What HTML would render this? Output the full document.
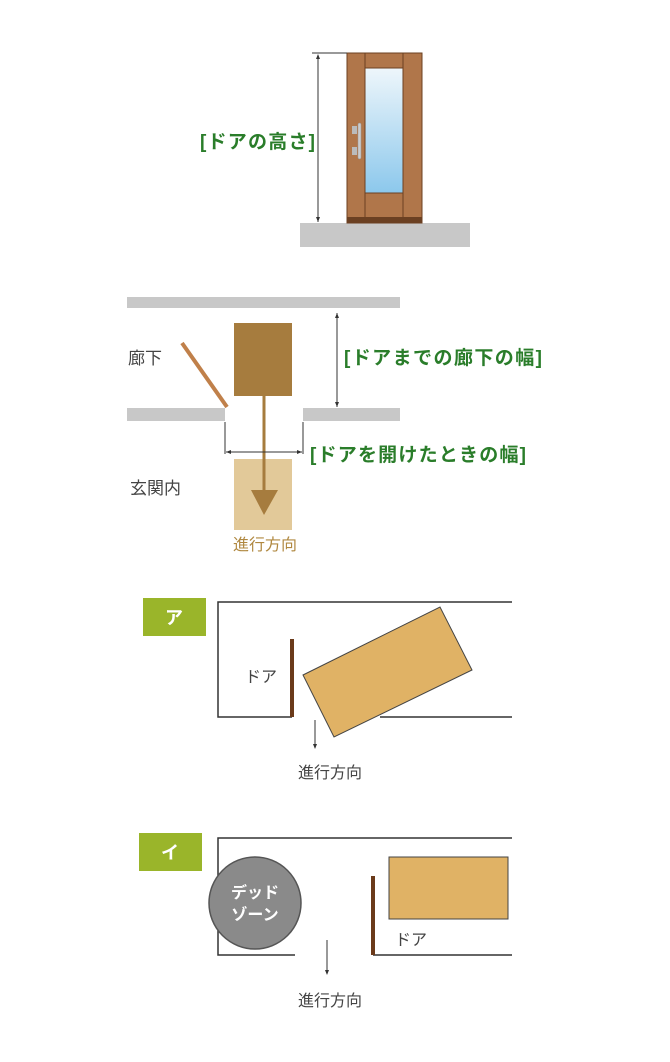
<!DOCTYPE html>
<html><head><meta charset="utf-8"><style>
html,body{margin:0;padding:0;background:#fff;}
svg{display:block;}
text{font-family:"Liberation Sans","Noto Sans CJK JP",sans-serif;}
</style></head><body>
<svg width="670" height="1062" viewBox="0 0 670 1062" xmlns="http://www.w3.org/2000/svg">
<!-- Door height -->
<rect x="300" y="223" width="170" height="24" fill="#c8c8c8"/>
<rect x="347" y="53" width="75" height="170" fill="#b0764a" stroke="#6b4022" stroke-width="1"/>
<line x1="365" y1="53" x2="365" y2="223" stroke="#6b4022" stroke-width="1"/>
<line x1="403" y1="53" x2="403" y2="223" stroke="#6b4022" stroke-width="1"/>
<defs><linearGradient id="g" x1="0" y1="0" x2="0" y2="1"><stop offset="0" stop-color="#eef6fb"/><stop offset="1" stop-color="#8cc8ec"/></linearGradient></defs>
<rect x="365" y="68" width="38" height="125" fill="url(#g)" stroke="#6b4022" stroke-width="1"/>
<rect x="347" y="217" width="75" height="6" fill="#6b4022"/>
<rect x="352" y="126" width="5" height="8" fill="#bbb"/>
<rect x="352" y="147" width="5" height="8" fill="#bbb"/>
<rect x="358" y="123" width="3" height="36" rx="1.5" fill="#ccc" stroke="#999" stroke-width="0.5"/>
<line x1="312" y1="53" x2="347" y2="53" stroke="#333" stroke-width="1"/>
<line x1="318" y1="55" x2="318" y2="222" stroke="#333" stroke-width="1"/>
<path d="M316,59 L318,54 L320,59Z M316,217 L318,222 L320,217Z" fill="#333"/>
<text x="200" y="148" font-size="19" font-weight="bold" fill="#2a7d2a" textLength="115" lengthAdjust="spacing">[ドアの高さ]</text>

<!-- Corridor -->
<rect x="127" y="297" width="273" height="11" fill="#c8c8c8"/>
<rect x="127" y="408" width="98" height="13" fill="#c8c8c8"/>
<rect x="303" y="408" width="97" height="13" fill="#c8c8c8"/>
<line x1="182" y1="343" x2="227" y2="407" stroke="#c0804a" stroke-width="4"/>
<rect x="234" y="323" width="58" height="73" fill="#a67c3e"/>
<rect x="234" y="459" width="58" height="71" fill="#e2c999"/>
<line x1="264" y1="396" x2="264" y2="500" stroke="#a67c3e" stroke-width="3"/>
<path d="M251,490 L278,490 L264,515Z" fill="#a67c3e"/>
<line x1="337" y1="313" x2="337" y2="407" stroke="#333" stroke-width="1"/>
<path d="M335,318 L337,313 L339,318Z M335,402 L337,407 L339,402Z" fill="#333"/>
<line x1="225" y1="422" x2="225" y2="454" stroke="#333" stroke-width="1"/>
<line x1="303" y1="422" x2="303" y2="454" stroke="#333" stroke-width="1"/>
<line x1="226" y1="452" x2="302" y2="452" stroke="#333" stroke-width="1"/>
<path d="M231,450 L226,452 L231,454Z M297,450 L302,452 L297,454Z" fill="#333"/>
<text x="128" y="364" font-size="17" fill="#444">廊下</text>
<text x="130" y="494" font-size="17" fill="#444">玄関内</text>
<text x="344" y="364" font-size="19" font-weight="bold" fill="#2a7d2a" textLength="198" lengthAdjust="spacing">[ドアまでの廊下の幅]</text>
<text x="310" y="461" font-size="19" font-weight="bold" fill="#2a7d2a" textLength="216" lengthAdjust="spacing">[ドアを開けたときの幅]</text>
<text x="265" y="550" font-size="16" fill="#b08840" text-anchor="middle">進行方向</text>

<!-- ア -->
<rect x="143" y="598" width="63" height="38" fill="#9ab52a"/>
<text x="174" y="624" font-size="18" font-weight="bold" fill="#fff" text-anchor="middle">ア</text>
<polyline points="512,602 218,602 218,717 292,717" fill="none" stroke="#333" stroke-width="1.5"/>
<line x1="380" y1="717" x2="512" y2="717" stroke="#333" stroke-width="1.5"/>
<rect x="290" y="639" width="4" height="78" fill="#6b3a1a"/>
<polygon points="303,675 440,607 472,670 334,737" fill="#e0b265" stroke="#444" stroke-width="1"/>
<line x1="315" y1="720" x2="315" y2="748" stroke="#333" stroke-width="1"/>
<path d="M313,744 L315,749 L317,744Z" fill="#333"/>
<text x="245" y="682" font-size="16" fill="#444">ドア</text>
<text x="330" y="778" font-size="16" fill="#444" text-anchor="middle">進行方向</text>

<!-- イ -->
<rect x="139" y="833" width="63" height="38" fill="#9ab52a"/>
<text x="170" y="859" font-size="18" font-weight="bold" fill="#fff" text-anchor="middle">イ</text>
<polyline points="512,838 218,838 218,955 295,955" fill="none" stroke="#333" stroke-width="1.5"/>
<line x1="373" y1="955" x2="512" y2="955" stroke="#333" stroke-width="1.5"/>
<rect x="371" y="876" width="4" height="79" fill="#6b3a1a"/>
<rect x="389" y="857" width="119" height="62" fill="#e0b265" stroke="#444" stroke-width="1"/>
<circle cx="255" cy="903" r="46" fill="#8a8a8a" stroke="#555" stroke-width="1.5"/>
<text x="255" y="898" font-size="16" font-weight="bold" fill="#fff" text-anchor="middle">デッド</text>
<text x="255" y="920" font-size="16" font-weight="bold" fill="#fff" text-anchor="middle">ゾーン</text>
<line x1="327" y1="940" x2="327" y2="974" stroke="#333" stroke-width="1"/>
<path d="M325,970 L327,975 L329,970Z" fill="#333"/>
<text x="395" y="945" font-size="16" fill="#444">ドア</text>
<text x="330" y="1006" font-size="16" fill="#444" text-anchor="middle">進行方向</text>
</svg>
</body></html>
